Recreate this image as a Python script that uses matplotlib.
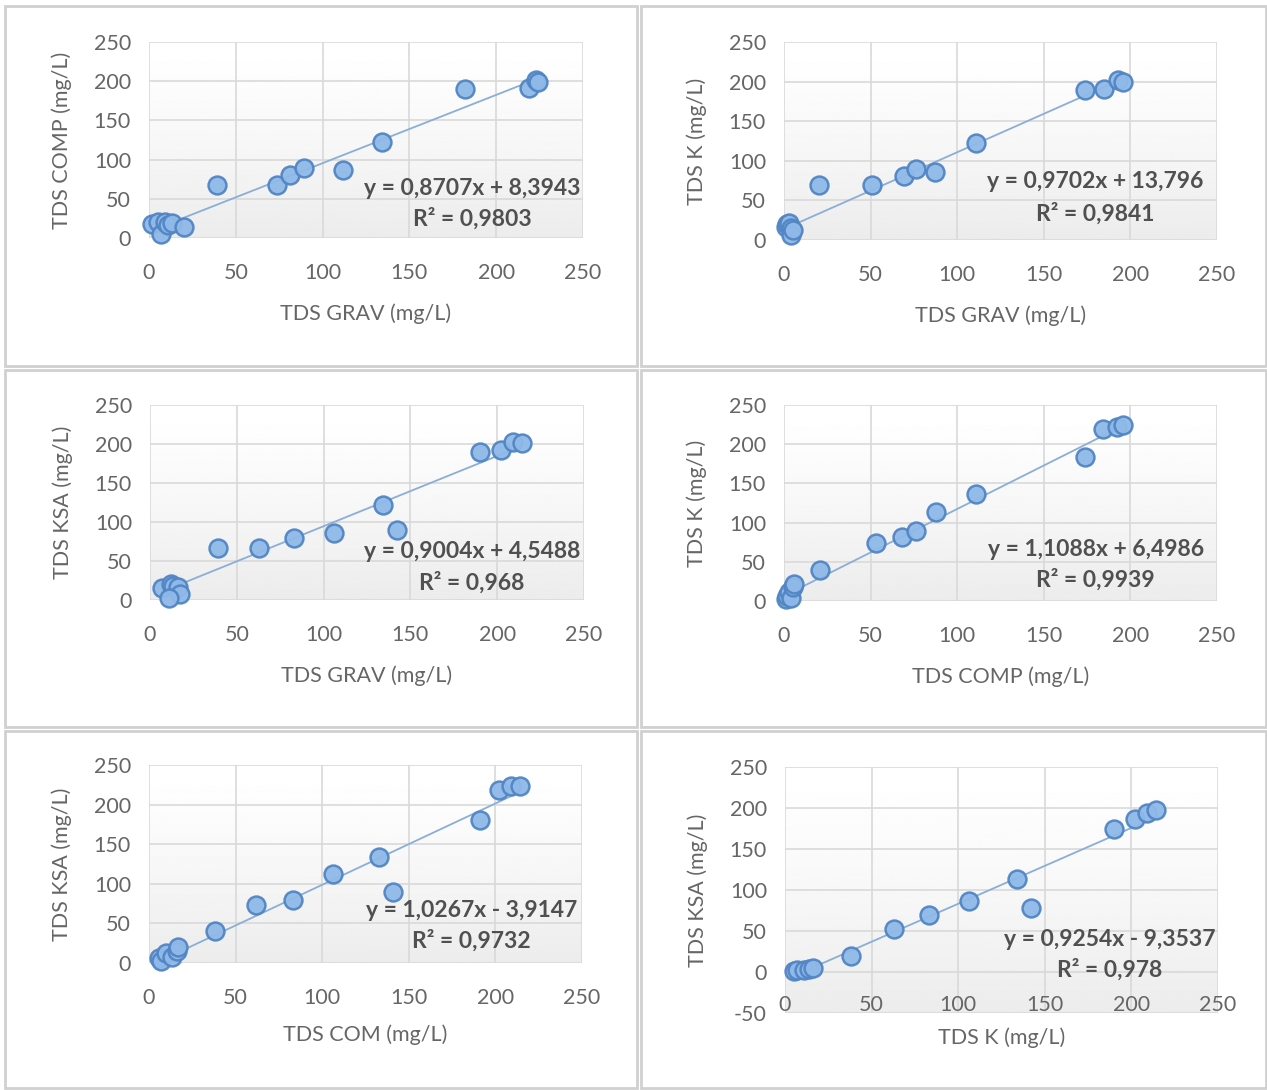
import matplotlib.pyplot as plt
import numpy as np

plt.rcParams['font.family'] = ['Lato', 'DejaVu Sans']
plt.rcParams['axes.unicode_minus'] = False

# --- datos ---
grav_comp_x = [2, 5, 7, 9, 11, 13, 20, 39, 74, 81, 89, 112, 134, 182, 219, 223, 224]
grav_comp_y = [18, 20, 5, 21, 17, 19, 14, 68, 68, 80, 89, 87, 122, 190, 191, 201, 199]

grav_k_x = [1, 2, 3, 4, 4, 5, 20, 51, 69, 76, 87, 111, 174, 185, 193, 196]
grav_k_y = [17, 20, 22, 15, 6, 12, 69, 69, 81, 90, 86, 123, 189, 191, 202, 200]

grav_ksa_x = [7, 12, 13, 16, 17, 11, 39, 63, 83, 106, 134, 142, 190, 202, 209, 214]
grav_ksa_y = [15, 21, 18, 17, 8, 3, 67, 67, 80, 86, 122, 90, 190, 192, 203, 201]

comp_k_x = [1, 2, 3, 4, 5, 6, 21, 53, 68, 76, 88, 111, 174, 184, 192, 196]
comp_k_y = [2, 7, 12, 4, 18, 22, 40, 74, 82, 89, 113, 137, 184, 219, 222, 224]

com_ksa_x = [6, 7, 10, 13, 16, 17, 38, 62, 83, 106, 133, 141, 191, 202, 209, 214]
com_ksa_y = [6, 3, 12, 8, 15, 20, 40, 73, 80, 112, 134, 90, 181, 218, 224, 223]

k_ksa_x = [5, 7, 11, 14, 16, 38, 63, 83, 106, 134, 142, 190, 202, 209, 214]
k_ksa_y = [1, 2, 3, 4, 5, 20, 52, 69, 87, 113, 78, 175, 186, 194, 197]

pendientes = [0.8707, 0.9702, 0.9004, 1.1088, 1.0267, 0.9254]
intercepts = [8.3943, 13.796, 4.5488, 6.4986, -3.9147, -9.3537]
ecuaciones = ["y = 0,8707x + 8,3943", "y = 0,9702x + 13,796", "y = 0,9004x + 4,5488",
              "y = 1,1088x + 6,4986", "y = 1,0267x - 3,9147", "y = 0,9254x - 9,3537"]
r2_textos = ["R² = 0,9803", "R² = 0,9841", "R² = 0,968",
             "R² = 0,9939", "R² = 0,9732", "R² = 0,978"]
etiquetas_x = ["TDS GRAV (mg/L)", "TDS GRAV (mg/L)", "TDS GRAV (mg/L)",
               "TDS COMP (mg/L)", "TDS COM (mg/L)", "TDS K (mg/L)"]
etiquetas_y = ["TDS COMP (mg/L)", "TDS K (mg/L)", "TDS KSA (mg/L)",
               "TDS K (mg/L)", "TDS KSA (mg/L)", "TDS KSA (mg/L)"]
series = [(grav_comp_x, grav_comp_y), (grav_k_x, grav_k_y), (grav_ksa_x, grav_ksa_y),
          (comp_k_x, comp_k_y), (com_ksa_x, com_ksa_y), (k_ksa_x, k_ksa_y)]

W, H = 1267, 1090
fig = plt.figure(figsize=(W / 100, H / 100), dpi=100)

# marcos de cada panel (pixeles)
marcos = [(5, 6, 637, 366), (641, 6, 1266, 366), (5, 370, 637, 727),
          (641, 370, 1266, 727), (5, 731, 637, 1088), (641, 731, 1266, 1088)]
for (x0, y0, x1, y1) in marcos:
    fig.patches.append(plt.Rectangle((x0 / W, 1 - y1 / H), (x1 - x0) / W, (y1 - y0) / H,
                                     transform=fig.transFigure, fill=False,
                                     edgecolor='#d0d0d0', linewidth=2))

# area de trazado: izquierda, arriba, derecha, abajo (pixeles)
areas = [(149, 42, 583, 238), (784, 42, 1217, 240), (150, 405, 584, 600),
         (784, 405, 1217, 601), (149, 765, 582, 963), (785, 767, 1218, 1013)]
pos_texto = [(0.744, 0.255, 0.097), (0.718, 0.293, 0.136), (0.742, 0.251, 0.092),
             (0.72, 0.265, 0.107), (0.744, 0.263, 0.111), (0.75, 0.297, 0.175)]
xlabel_off = [65, 65, 65, 65, 61, 14]

gris = '#666666'
grad = np.linspace(0, 1, 256).reshape(-1, 1)
grad = 1 - 0.075 * (1 - grad) ** 1.3

for i, (l, t, r, b) in enumerate(areas):
    ax = fig.add_axes([l / W, 1 - b / H, (r - l) / W, (b - t) / H])
    ax.imshow(grad, extent=(0, 1, 0, 1), transform=ax.transAxes, aspect='auto',
              cmap='gray', vmin=0, vmax=1, origin='lower', zorder=0)
    xs, ys = series[i]
    ax.scatter(xs, ys, s=165, facecolor='#8fb9e8', edgecolor='#5185c4',
               linewidth=1.8, zorder=4, alpha=0.95, clip_on=False)
    xl = np.array([min(xs), max(xs)])
    ax.plot(xl, pendientes[i] * xl + intercepts[i], color='#8aaed6', linewidth=1.3, zorder=3)

    ymin = -50 if i == 5 else 0
    ax.set_xlim(0, 250)
    ax.set_ylim(ymin, 250)
    ax.set_xticks(range(0, 251, 50))
    ax.set_yticks(range(ymin, 251, 50))
    ax.grid(True, color='#d9d9d9', linewidth=1.2, zorder=1)
    ax.set_axisbelow(True)
    for s in ax.spines.values():
        s.set_visible(False)
    ax.tick_params(length=0, labelsize=15.5, labelcolor=gris)
    ax.tick_params(axis='y', pad=13)
    ax.tick_params(axis='x', pad=-13 if i == 5 else 18)

    ph = b - t
    pw = r - l
    ax.set_xlabel(etiquetas_x[i], fontsize=15.5, color=gris)
    ax.xaxis.set_label_coords(0.5, -xlabel_off[i] / ph)
    ax.set_ylabel(etiquetas_y[i], fontsize=15.5, color=gris)
    ax.yaxis.set_label_coords(-77 / pw, 0.5)

    tx, ty1, ty2 = pos_texto[i]
    ax.text(tx, ty1, ecuaciones[i], transform=ax.transAxes, ha='center', va='center',
            fontsize=16.5, fontweight='bold', color='#505050', zorder=5)
    ax.text(tx, ty2, r2_textos[i], transform=ax.transAxes, ha='center', va='center',
            fontsize=16.5, fontweight='bold', color='#505050', zorder=5)

fig.savefig('out.png', dpi=100)
